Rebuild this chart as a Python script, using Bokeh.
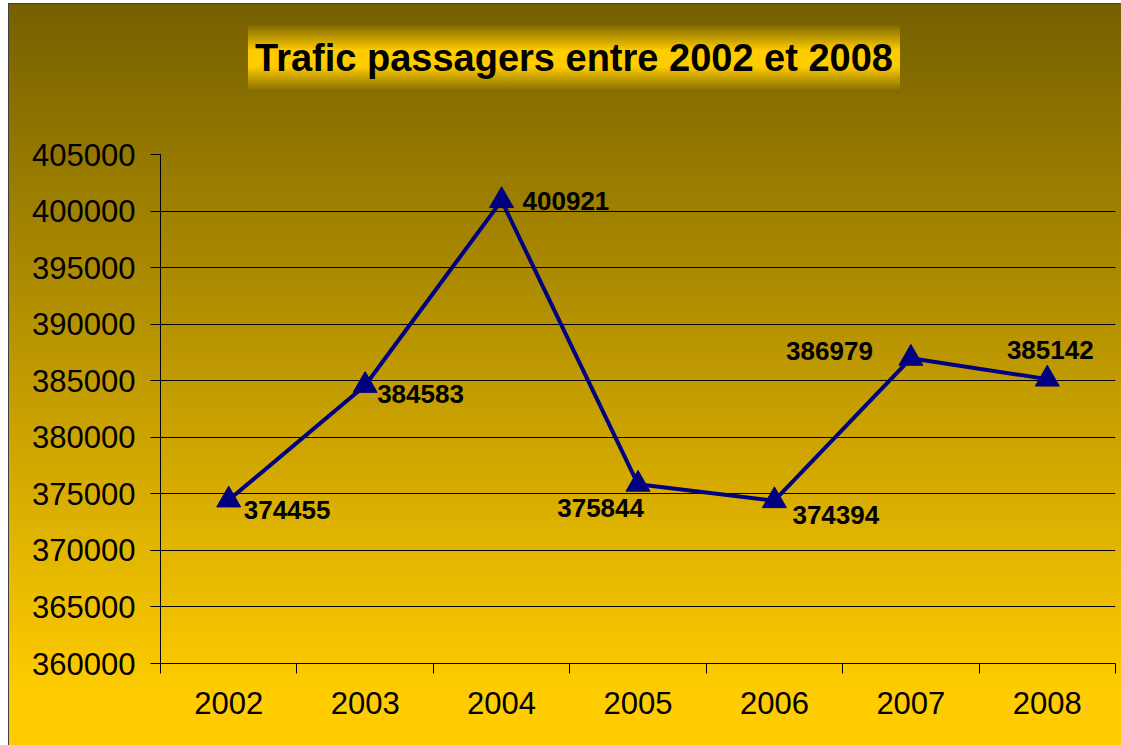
from bokeh.plotting import figure
from bokeh.models import (ColumnDataSource, Range1d, LinearAxis,
                          FixedTicker, NumeralTickFormatter, Div)
from bokeh.layouts import column
from bokeh.core.properties import value, field
from bokeh.embed import file_html
from bokeh.resources import INLINE

# ---- data ----
years = ["2002", "2003", "2004", "2005", "2006", "2007", "2008"]
passengers = [374455, 384583, 400921, 375844, 374394, 386979, 385142]
y_ticks = [360000, 365000, 370000, 375000, 380000, 385000, 390000, 395000, 400000, 405000]
title_text = "Trafic passagers entre 2002 et 2008"

# ---- label placement (screen pixels, positive dy = down) ----
label_dx = [15, 12, 21, 6, 18, -38, 3]
label_dy = [10, 9, 0, 24, 14, -7, -29]
label_align = ["left", "left", "left", "right", "left", "right", "center"]

FONT = "Liberation Sans"
W = 1121
TITLE_H = 100
FIG_H = 637
NAVY = "#000080"

pos = list(range(len(years)))          # category slots 0..6
edges = [i - 0.5 for i in range(len(years) + 1)]

src = ColumnDataSource(dict(
    x=pos, value=passengers, label=[str(v) for v in passengers],
    dx=label_dx, dy=label_dy, align=label_align,
))

p = figure(width=W, height=FIG_H, x_range=Range1d(edges[0], edges[-1]),
           y_range=Range1d(y_ticks[0], y_ticks[-1]),
           output_backend="svg", toolbar_location=None, x_axis_location=None,
           min_border_left=160, min_border_right=6, min_border_top=44, min_border_bottom=84,
           background_fill_color=None, border_fill_color=None, outline_line_color=None)

p.xgrid.visible = False
p.ygrid.grid_line_color = "black"
p.ygrid.grid_line_alpha = 1
p.ygrid.grid_line_width = 1

yax = p.yaxis[0]
yax.ticker = FixedTicker(ticks=y_ticks)
yax.formatter = NumeralTickFormatter(format="0")
yax.major_tick_out = 10
yax.major_tick_in = 0
yax.minor_tick_line_color = None
yax.axis_line_color = "black"
yax.major_tick_line_color = "black"
yax.major_label_text_font = FONT
yax.major_label_text_font_size = "31px"
yax.major_label_text_color = "black"
yax.major_label_standoff = 15

edge_axis = LinearAxis(ticker=FixedTicker(ticks=edges),
                       major_tick_out=10, major_tick_in=0, minor_tick_line_color=None,
                       axis_line_color="black", major_tick_line_color="black",
                       major_label_text_font_size="1px", major_label_text_color=None,
                       major_label_standoff=0)
p.add_layout(edge_axis, "below")

cat_axis = LinearAxis(ticker=FixedTicker(ticks=pos),
                      major_label_overrides={i: y for i, y in zip(pos, years)},
                      axis_line_color=None, major_tick_line_color=None,
                      minor_tick_line_color=None, major_tick_out=0, major_tick_in=0,
                      major_label_text_font=FONT, major_label_text_font_size="31px",
                      major_label_text_color="black", major_label_standoff=18)
p.add_layout(cat_axis, "below")

p.line(x="x", y="value", source=src, line_color=NAVY, line_width=4)
p.scatter(x="x", y="value", source=src, marker="triangle", size=24,
          fill_color=NAVY, line_color=NAVY)
p.text(x="x", y="value", text="label", source=src,
       x_offset="dx", y_offset="dy", text_align=field("align"), text_baseline="middle",
       text_font=value(FONT), text_font_style="bold", text_font_size="26px",
       text_color="black")

title_html = (
    '<div style="position:relative;left:243px;top:20px;width:652px;height:67px;'
    'line-height:67px;text-align:center;'
    'background:linear-gradient(to bottom,#806800 0%,#ffcc00 38%,#ffcc00 62%,#806800 100%);'
    "font-family:'Liberation Sans',Arial,sans-serif;font-weight:bold;font-size:38px;"
    'color:#000;white-space:nowrap;">' + title_text + '</div>'
)
div = Div(text=title_html, width=W, height=TITLE_H)

bg = ("linear-gradient(to bottom, #ffffff 0px, #ffffff 3px, rgba(0,0,0,0) 3px), "
      "linear-gradient(to right, #ffffff 0px, #ffffff 8px, #404040 8px, #404040 9px, rgba(0,0,0,0) 9px), "
      "linear-gradient(to bottom, #404040 0px, #404040 4px, #766000 4px, #ffcc00 93%)")

layout = column(div, p, spacing=0, styles={"background": bg})

with open("out.html", "w") as f:
    f.write(file_html(layout, INLINE))
